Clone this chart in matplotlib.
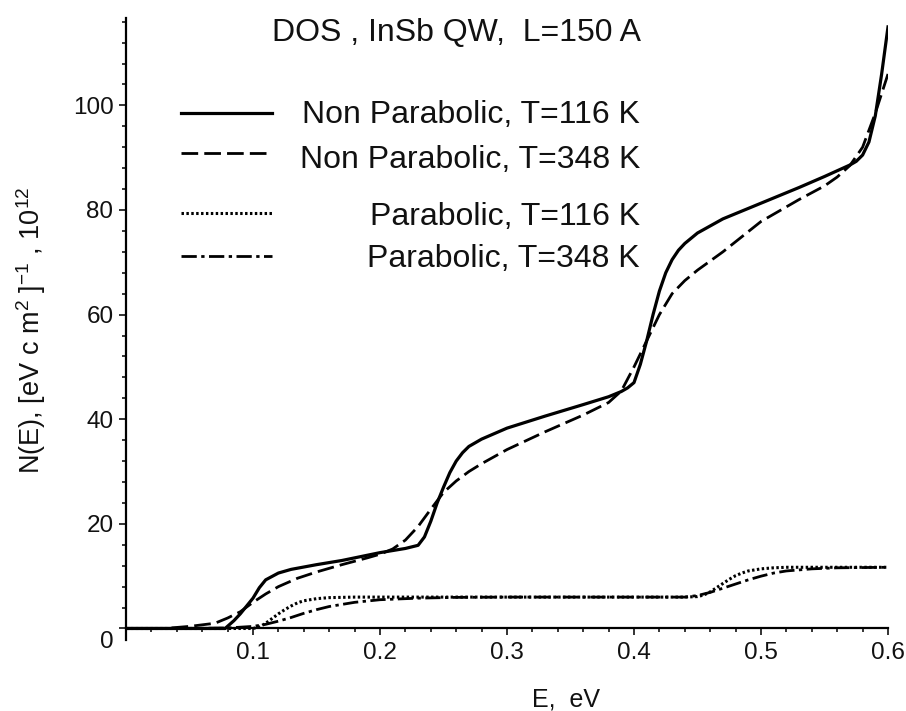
import matplotlib
matplotlib.use("Agg")
import matplotlib.pyplot as plt
from matplotlib.lines import Line2D
from matplotlib.ticker import MultipleLocator
import matplotlib.transforms as mtransforms

# values (E in eV, N in 1e12 / (eV cm^2))
e_np116 = [0, 0.07, 0.078, 0.085, 0.09, 0.095, 0.1, 0.105, 0.11, 0.12, 0.13, 0.15, 0.17,
           0.2, 0.22, 0.23, 0.235, 0.24, 0.245, 0.25, 0.255, 0.26, 0.265, 0.27, 0.28, 0.3,
           0.33, 0.36, 0.38, 0.39, 0.395, 0.4, 0.405, 0.41, 0.415, 0.42, 0.425, 0.43, 0.435,
           0.44, 0.45, 0.47, 0.5, 0.53, 0.55, 0.57, 0.575, 0.58, 0.585, 0.59, 0.595, 0.6]
n_np116 = [0, 0, 0, 1.5, 2.8, 4.3, 5.8, 7.8, 9.3, 10.6, 11.3, 12.2, 13.0,
           14.5, 15.3, 15.9, 17.5, 20.5, 24, 27, 29.8, 32.0, 33.6, 34.8, 36.2, 38.3,
           40.6, 42.8, 44.3, 45.3, 46.0, 47.0, 50.5, 55, 60, 64.5, 68, 70.5, 72.3,
           73.6, 75.6, 78.3, 81.3, 84.3, 86.4, 88.6, 89.3, 90.5, 93, 98, 106, 115]

e_np348 = [0, 0.03, 0.05, 0.07, 0.08, 0.09, 0.1, 0.11, 0.12, 0.135, 0.15, 0.17, 0.19, 0.2,
           0.21, 0.22, 0.23, 0.24, 0.25, 0.26, 0.27, 0.28, 0.3, 0.33, 0.36, 0.38, 0.39, 0.4,
           0.41, 0.42, 0.43, 0.44, 0.45, 0.47, 0.5, 0.53, 0.55, 0.56, 0.57, 0.58, 0.59, 0.6]
n_np348 = [0, 0, 0.4, 1.0, 2.0, 3.2, 5.0, 6.6, 8.0, 9.6, 10.8, 12.2, 13.5, 14.2,
           15.2, 16.9, 19.5, 22.8, 26, 28.2, 30.0, 31.5, 34.2, 37.6, 40.8, 43.2, 45.4, 50,
           55, 60, 64, 66.5, 68.5, 72, 77.8, 82, 84.6, 86.3, 88.5, 92, 98.5, 106]

e_p116 = [0, 0.1, 0.105, 0.11, 0.115, 0.12, 0.125, 0.13, 0.135, 0.14, 0.15, 0.16, 0.18, 0.2,
          0.3, 0.44, 0.45, 0.455, 0.46, 0.465, 0.47, 0.475, 0.48, 0.485, 0.49, 0.5, 0.51,
          0.52, 0.55, 0.6]
n_p116 = [0, 0, 0.3, 1.0, 1.9, 2.8, 3.6, 4.3, 4.9, 5.3, 5.7, 5.9, 6.0, 6.0,
          6.0, 6.0, 6.1, 6.4, 7.0, 7.8, 8.6, 9.4, 10.1, 10.6, 11.0, 11.4, 11.6,
          11.7, 11.7, 11.7]

e_p348 = [0, 0.05, 0.08, 0.1, 0.11, 0.12, 0.13, 0.14, 0.15, 0.16, 0.18, 0.2, 0.23, 0.26, 0.3,
          0.44, 0.45, 0.46, 0.47, 0.48, 0.49, 0.5, 0.51, 0.52, 0.54, 0.56, 0.6]
n_p348 = [0, 0, 0.1, 0.4, 0.8, 1.4, 2.1, 2.9, 3.6, 4.2, 5.0, 5.5, 5.8, 5.95, 6.0,
          6.0, 6.3, 6.9, 7.7, 8.5, 9.3, 10.0, 10.6, 11.0, 11.4, 11.6, 11.7]

labels = ["Non Parabolic, T=116 K", "Non Parabolic, T=348 K",
          "Parabolic, T=116 K", "Parabolic, T=348 K"]
x_ticks = [0.1, 0.2, 0.3, 0.4, 0.5, 0.6]
y_ticks = [0, 20, 40, 60, 80, 100]

plt.rcParams['font.family'] = ['Liberation Sans', 'DejaVu Sans']
plt.rcParams['mathtext.fontset'] = 'custom'
plt.rcParams['mathtext.rm'] = 'Liberation Sans'
plt.rcParams['mathtext.it'] = 'Liberation Sans'

W, H = 906, 711
fig = plt.figure(figsize=(W / 100, H / 100), dpi=100)
ax = fig.add_axes([126 / W, 1 - 640 / H, 762 / W, 622 / H])

styles = [
    dict(color='black', lw=2.3, ls='-'),
    dict(color='black', lw=2.0, ls=(0, (6, 2.2))),
    dict(color='black', lw=2.2, ls=(0, (0.8, 0.8))),
    dict(color='black', lw=2.0, ls=(0, (5.5, 1.6, 1.2, 1.6))),
]
series = [(e_np116, n_np116), (e_np348, n_np348), (e_p116, n_p116), (e_p348, n_p348)]

# parabolic first so the thick curves sit on top
for (e, n), st in list(zip(series, styles))[::-1]:
    ax.plot(e, n, **st)

ax.set_xlim(0, 0.6)
ax.set_ylim(-2.2, 116.7)
ax.spines['top'].set_visible(False)
ax.spines['right'].set_visible(False)
ax.spines['bottom'].set_position(('data', 0))
ax.spines['left'].set_linewidth(1.6)
ax.spines['bottom'].set_linewidth(1.6)

ax.set_xticks(x_ticks)
ax.set_xticklabels([str(t) for t in x_ticks])
ax.set_yticks(y_ticks)
ax.set_yticklabels([str(t) for t in y_ticks])
ax.xaxis.set_minor_locator(MultipleLocator(0.02))
ax.yaxis.set_minor_locator(MultipleLocator(4))
ax.tick_params(which='major', direction='out', length=5, width=1.2, labelsize=17.5,
               colors='#111111')
ax.tick_params(which='minor', direction='out', length=3, width=1.1)
ax.tick_params(axis='x', pad=5)
ax.tick_params(axis='y', pad=4)

# the "0" label sits a bit under the x axis in the original
lab0 = ax.get_yticklabels()[0]
lab0.set_transform(lab0.get_transform() +
                   mtransforms.ScaledTranslation(0, -11 / 100, fig.dpi_scale_trans))

# title and hand placed legend
fig.text(641 / W, 1 - 41 / H, "DOS , InSb QW,  L=150 A", ha='right', va='baseline',
         fontsize=23, color='#111111')

leg_line_y = [113, 153, 213, 256]
leg_text_y = [123, 168, 225, 267]
for lab, st, ly, ty in zip(labels, styles, leg_line_y, leg_text_y):
    fig.add_artist(Line2D([181 / W, 272 / W], [1 - ly / H, 1 - ly / H],
                          transform=fig.transFigure, **st))
    fig.text(640 / W, 1 - ty / H, lab, ha='right', va='baseline', fontsize=23,
             color='#111111')

fig.text(31 / W, 1 - 330 / H, r"N(E), [eV c m$^{2}$ ]$^{-1}$ , 10$^{12}$", rotation=90,
         ha='center', va='center', fontsize=19.5, color='#111111')
fig.text(566 / W, 1 - 707 / H, "E,  eV", ha='center', va='baseline', fontsize=18,
         color='#111111')

fig.savefig("out.png", dpi=100)
